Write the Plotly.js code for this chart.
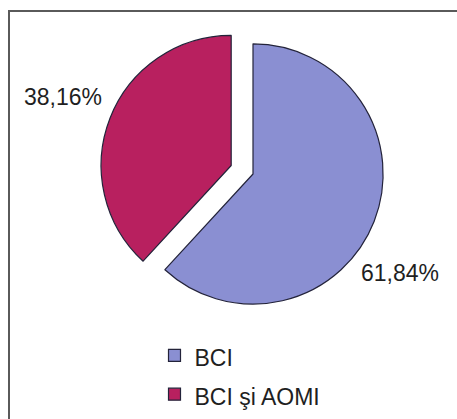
<!DOCTYPE html>
<html>
<head>
<meta charset="utf-8">
<script src="https://cdn.plot.ly/plotly-3.0.1.min.js"></script>
<style>html,body{margin:0;padding:0;background:#fff;}#chart{width:457px;height:419px;}</style>
</head>
<body>
<div id="chart"></div>
<script>
var categories = ["BCI", "BCI şi AOMI"];
var values = [61.84, 38.16];
var colors = ["#8a8fd2", "#b8205f"];
var pulls = [0, 0.18];

var W = 457, H = 419;
function px(x){ return x / W; }
function py(y){ return 1 - y / H; }

function fmt(v){ return v.toFixed(2).replace('.', ',') + '%'; }

var labelPos = [[400, 273], [63, 97]];

var trace = {
  type: 'pie',
  labels: categories.map(function(c){ return '<span style="font-size:23px">' + c + '</span>'; }),
  values: values,
  sort: false,
  direction: 'clockwise',
  rotation: 0,
  pull: pulls,
  marker: {colors: colors, line: {color: '#23233a', width: 1.2}},
  textinfo: 'none',
  hoverinfo: 'none',
  domain: {x: [px(99.5), px(406.5)], y: [py(327.5), py(20.5)]}
};

var annotations = values.map(function(v, i){
  return {
    xref: 'paper', yref: 'paper',
    x: px(labelPos[i][0]), y: py(labelPos[i][1]),
    xanchor: 'center', yanchor: 'middle',
    text: fmt(v), showarrow: false,
    font: {family: 'Liberation Sans, Arial, sans-serif', size: 23, color: '#1f1f1f'}
  };
});

var layout = {
  width: W, height: H,
  margin: {l: 0, r: 0, t: 0, b: 0},
  paper_bgcolor: '#ffffff',
  showlegend: true,
  legend: {
    x: px(154.5), y: py(331), xanchor: 'left', yanchor: 'top',
    font: {family: 'Liberation Sans, Arial, sans-serif', size: 27.5, color: '#1f1f1f'},
    bgcolor: 'rgba(0,0,0,0)', traceorder: 'normal'
  },
  annotations: annotations,
  shapes: [{
    type: 'rect', xref: 'paper', yref: 'paper',
    x0: px(9), y0: -0.05, x1: 1.05, y1: py(11),
    line: {color: '#5a5a5a', width: 2}, fillcolor: 'rgba(0,0,0,0)'
  }]
};

Plotly.newPlot('chart', [trace], layout, {staticPlot: true, displayModeBar: false});
</script>
</body>
</html>
